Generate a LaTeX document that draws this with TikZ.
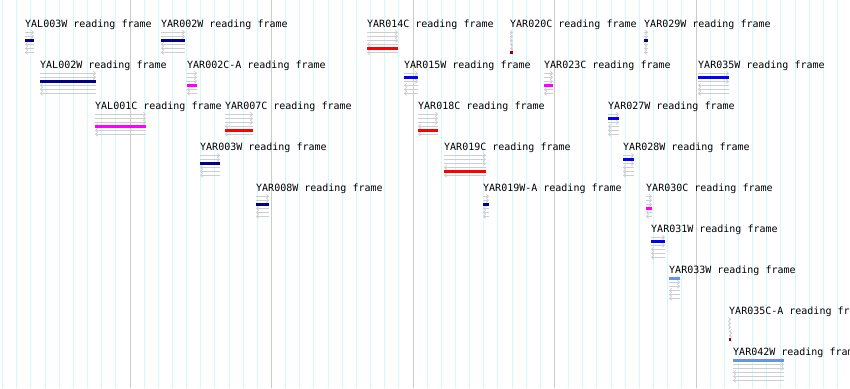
\documentclass[tikz,border=0pt]{standalone}
\usepackage{fontspec}
\newfontfamily\orffont{DejaVu Sans Mono}
\usetikzlibrary{arrows.meta}
\definecolor{gridcyan}{RGB}{208,250,250}
\definecolor{gridgray}{RGB}{204,204,204}
\definecolor{framegray}{RGB}{206,206,206}
\definecolor{orfnavy}{RGB}{0,0,136}
\definecolor{orfblue}{RGB}{0,0,255}
\definecolor{orfmagenta}{RGB}{255,0,255}
\definecolor{orfred}{RGB}{255,0,0}
\definecolor{orfdarkred}{RGB}{150,0,0}
\definecolor{orflight}{RGB}{100,149,230}
\begin{document}
\begin{tikzpicture}[x=1pt,y=-1pt,
  minor grid/.style={draw=gridcyan,line width=1pt},
  major grid/.style={draw=gridgray,line width=1pt},
  orf label/.style={anchor=base west,inner sep=0pt,font=\orffont\fontsize{10}{12}\selectfont},
  frame line/.style={draw=framegray,line width=0.8pt},
  fwd line/.style={frame line,-{Straight Barb[length=2pt,width=4pt]}},
  rev line/.style={frame line,{Straight Barb[length=2pt,width=4pt]}-},
  orf bar/.style={line width=3.3pt}]

  \useasboundingbox (0,0) rectangle (850,388);
  \fill[white] (0,0) rectangle (850,388);
  \clip (0,0) rectangle (850,388);

  % grid
  \foreach \k in {0,...,59}
    \draw[minor grid] (2.65+14.15*\k,0) -- (2.65+14.15*\k,388);
  \foreach \k in {0,...,4}
    \draw[major grid] (130+141.5*\k,0) -- (130+141.5*\k,388);

  % reading frames: name / start / end / level / frame / colour
  \foreach \n/\xa/\xb/\lv/\fr/\col in {
      YAL003W/25/34/0/2/orfnavy, YAR002W/161/185/0/2/orfnavy,
      YAR014C/367/398/0/4/orfred, YAR020C/510/513/0/5/orfdarkred,
      YAR029W/644/648/0/2/orfnavy,
      YAL002W/40/96/1/2/orfnavy, YAR002C-A/187/197/1/3/orfmagenta,
      YAR015W/404/418/1/1/orfblue, YAR023C/544/553/1/3/orfmagenta,
      YAR035W/698/729/1/1/orfblue,
      YAL001C/95/146/2/3/orfmagenta, YAR007C/225/253/2/4/orfred,
      YAR018C/418/438/2/4/orfred, YAR027W/608/619/2/1/orfblue,
      YAR003W/200/220/3/2/orfnavy, YAR019C/444/486/3/4/orfred,
      YAR028W/623/634/3/1/orfblue,
      YAR008W/256/269/4/2/orfnavy, YAR019W-A/483/489/4/2/orfnavy,
      YAR030C/646/652/4/3/orfmagenta,
      YAR031W/651/665/5/1/orfblue,
      YAR033W/669/680/6/0/orflight,
      YAR035C-A/729/731/7/5/orfdarkred,
      YAR042W/733/784/8/0/orflight}
  {
    \pgfmathsetmacro\yb{27.3+41*\lv}
    \node[orf label] (\n) at (\xa,\yb) {\n{} reading frame};
    \foreach \r in {0,1,2}
      \draw[fwd line] (\xa,\yb+5+4*\r) -- (\xb,\yb+5+4*\r);
    \foreach \r in {3,4,5}
      \draw[rev line] (\xa,\yb+5+4*\r) -- (\xb,\yb+5+4*\r);
    \draw[orf bar,\col] (\xa,\yb+5+4*\fr) -- (\xb,\yb+5+4*\fr);
  }
\end{tikzpicture}
\end{document}
